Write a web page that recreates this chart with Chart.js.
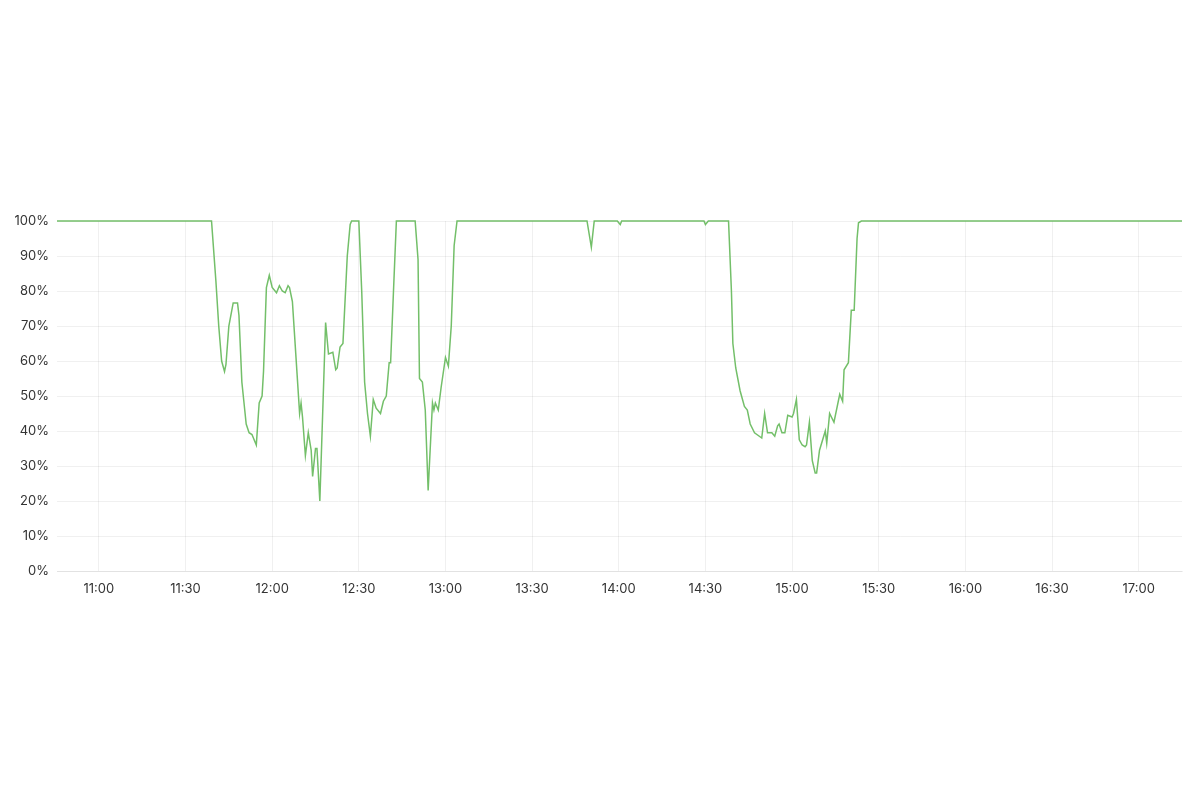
<!DOCTYPE html>
<html>
<head>
<meta charset="utf-8">
<style>
  html, body { margin: 0; padding: 0; background: #fff; }
  #wrap { width: 1200px; height: 800px; }
</style>
<script src="https://cdn.jsdelivr.net/npm/chart.js@4.4.1/dist/chart.umd.min.js"></script>
</head>
<body>
<div id="wrap"><canvas id="myChart" width="1200" height="800"></canvas></div>
<script>
// sample times (clock) and availability values (%)
const times = [
  "10:45:30", "11:39", "11:40:30", "11:41:30", "11:42:30", "11:43:30", "11:44", "11:45",
  "11:46:30", "11:48", "11:48:30", "11:49:30", "11:50:30", "11:51", "11:52", "11:53",
  "11:54:30", "11:55:30", "11:56:30", "11:57", "11:58", "11:59", "12:00", "12:01",
  "12:01:30", "12:02:30", "12:03:30", "12:04:30", "12:05:30", "12:06", "12:07", "12:09:30",
  "12:10", "12:10:30", "12:11:30", "12:12:30", "12:13:30", "12:14", "12:15", "12:15:30",
  "12:16:30", "12:18:30", "12:19:30", "12:21", "12:22", "12:22:30", "12:23:30", "12:24:30",
  "12:26", "12:27", "12:27:30", "12:30", "12:31", "12:32", "12:33", "12:34",
  "12:35", "12:36", "12:37:30", "12:38:30", "12:39:30", "12:40:30", "12:41", "12:42",
  "12:43", "12:49:30", "12:50:30", "12:51", "12:52", "12:53", "12:54", "12:55:30",
  "12:56", "12:56:30", "12:57:30", "12:58:30", "13:00", "13:01", "13:02", "13:03",
  "13:04", "13:49", "13:50:30", "13:51:30", "13:59:30", "14:00:30", "14:01", "14:29:30",
  "14:30", "14:31", "14:38", "14:39", "14:39:30", "14:40:30", "14:42", "14:42:30",
  "14:43:30", "14:44:30", "14:45:30", "14:47", "14:49:30", "14:50:30", "14:51:30", "14:53",
  "14:54", "14:55", "14:55:30", "14:56:30", "14:57:30", "14:58:30", "15:00", "15:00:30",
  "15:01:30", "15:02:30", "15:03:30", "15:04:30", "15:05", "15:06", "15:07", "15:08",
  "15:08:30", "15:09:30", "15:11:30", "15:12", "15:13", "15:14:30", "15:16:30", "15:17:30",
  "15:18", "15:19:30", "15:20:30", "15:21:30", "15:22:30", "15:23", "15:24", "17:15"
];

const values = [
  100, 100, 83, 70, 60, 57, 59, 70,
  76.6, 76.6, 73, 54, 46, 42, 39.5, 39,
  36, 48, 50, 57, 81, 84.5, 81, 80,
  79.5, 81.5, 80, 79.5, 81.5, 81, 77, 45,
  48, 44, 33, 39.5, 34.5, 27, 35, 35,
  20, 71, 62, 62.5, 57.5, 58, 64, 65,
  90, 99, 100, 100, 80, 54, 45, 38.5,
  49, 46.5, 45, 48.5, 50, 59.5, 59.5, 80,
  100, 100, 89, 55, 54, 46, 23, 48,
  46, 48, 46, 52.5, 61, 58.5, 70, 93,
  100, 100, 92.5, 100, 100, 99, 100, 100,
  99, 100, 100, 80, 65, 58, 51.5, 50,
  47, 46, 42, 39.5, 38, 45, 39.5, 39.5,
  38.5, 41.5, 42, 39.5, 39.5, 44.5, 44, 45,
  49, 37.5, 36, 35.5, 36, 42.5, 31.5, 28,
  28, 34.5, 40, 36.5, 45, 42.5, 50.5, 48.5,
  57.5, 59.5, 74.5, 74.5, 95, 99.5, 100, 100
];

const tickLabels = ["11:00", "11:30", "12:00", "12:30", "13:00", "13:30", "14:00",
  "14:30", "15:00", "15:30", "16:00", "16:30", "17:00"];

const xStart = "10:45:30";
const xEnd = "17:15";

function toMinutes(t) {
  const p = t.split(":").map(Number);
  return p[0] * 60 + p[1] + (p[2] || 0) / 60;
}

const points = times.map((t, i) => ({ x: toMinutes(t), y: values[i] }));
const tickValues = tickLabels.map(toMinutes);

function fmt(m) {
  const h = Math.floor(m / 60);
  const mm = Math.round(m % 60);
  return h + ":" + String(mm).padStart(2, "0");
}

Chart.defaults.font.family = "Inter, 'Noto Sans', sans-serif";
Chart.defaults.font.size = 13;
Chart.defaults.color = "#333";

const gridColor = "rgba(0,0,0,0.06)";

const config = {
  type: "line",
  data: {
    datasets: [{
      data: points,
      borderColor: "#73bf69",
      borderWidth: 1.5,
      pointRadius: 0,
      tension: 0,
      fill: false,
      clip: 4,
    }],
  },
  options: {
    responsive: false,
    animation: false,
    layout: {
      padding: { top: 221, right: 18, bottom: 199, left: 0 },
    },
    plugins: {
      legend: { display: false },
      tooltip: { enabled: false },
    },
    scales: {
      x: {
        type: "linear",
        min: toMinutes(xStart),
        max: toMinutes(xEnd),
        afterBuildTicks: (axis) => {
          axis.ticks = tickValues.map(v => ({ value: v }));
        },
        afterFit: (axis) => { axis.height = 30; },
        ticks: {
          padding: 10,
          maxRotation: 0,
          autoSkip: false,
          callback: (v) => fmt(v),
        },
        grid: { color: gridColor, drawTicks: false },
        border: { color: gridColor },
      },
      y: {
        min: 0,
        max: 100,
        afterFit: (axis) => { axis.width = 57; },
        ticks: {
          stepSize: 10,
          padding: 8,
          callback: (v) => v + "%",
        },
        grid: { color: gridColor, drawTicks: false },
        border: { display: false },
      },
    },
  },
};

const myChart = new Chart(document.getElementById("myChart"), config);
</script>
</body>
</html>
